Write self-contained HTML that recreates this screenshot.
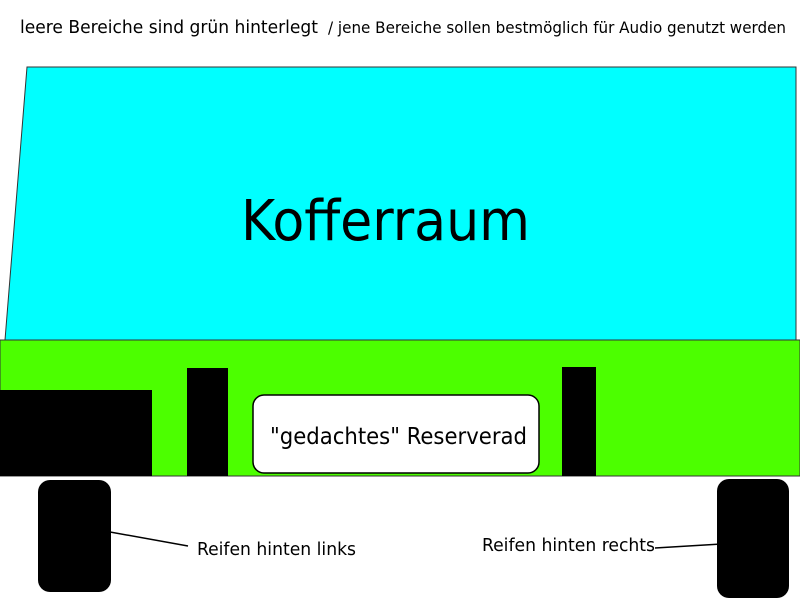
<!DOCTYPE html>
<html><head><style>
body{margin:0;width:800px;height:600px;background:#fff;overflow:hidden}
text{font-family:"DejaVu Sans Condensed","Liberation Sans",sans-serif}
</style></head><body>
<svg width="800" height="600" xmlns="http://www.w3.org/2000/svg" style="position:absolute;left:0;top:0">
<text x="20" y="33" font-size="18" textLength="298" lengthAdjust="spacingAndGlyphs">leere Bereiche sind grün hinterlegt</text>
<text x="328" y="33" font-size="16" textLength="458" lengthAdjust="spacingAndGlyphs">/ jene Bereiche sollen bestmöglich für Audio genutzt werden</text>
<polygon points="27,67 796,67 796,340 5,340" fill="#00ffff" stroke="#333" stroke-width="1"/>
<text x="241" y="240" font-size="56" textLength="289" lengthAdjust="spacingAndGlyphs">Kofferraum</text>
<rect x="0" y="340" width="800" height="136" fill="#4cff00" stroke="#333" stroke-width="1"/>
<rect x="0" y="390" width="152" height="86" fill="#000"/>
<rect x="187" y="368" width="41" height="108" fill="#000"/>
<rect x="562" y="367" width="34" height="109" fill="#000"/>
<rect x="253" y="395" width="286" height="78" rx="11" fill="#fff" stroke="#000" stroke-width="1.5"/>
<text x="270" y="444" font-size="23" textLength="257" lengthAdjust="spacingAndGlyphs">"gedachtes" Reserverad</text>
<rect x="38" y="480" width="73" height="112" rx="12" fill="#000"/>
<rect x="717" y="479" width="72" height="119" rx="12" fill="#000"/>
<line x1="99" y1="530" x2="188" y2="546" stroke="#000" stroke-width="1.5"/>
<line x1="655" y1="548" x2="738" y2="543" stroke="#000" stroke-width="1.5"/>
<text x="197" y="555" font-size="18" textLength="159" lengthAdjust="spacingAndGlyphs">Reifen hinten links</text>
<text x="482" y="551" font-size="18" textLength="173" lengthAdjust="spacingAndGlyphs">Reifen hinten rechts</text>
</svg>
</body></html>
